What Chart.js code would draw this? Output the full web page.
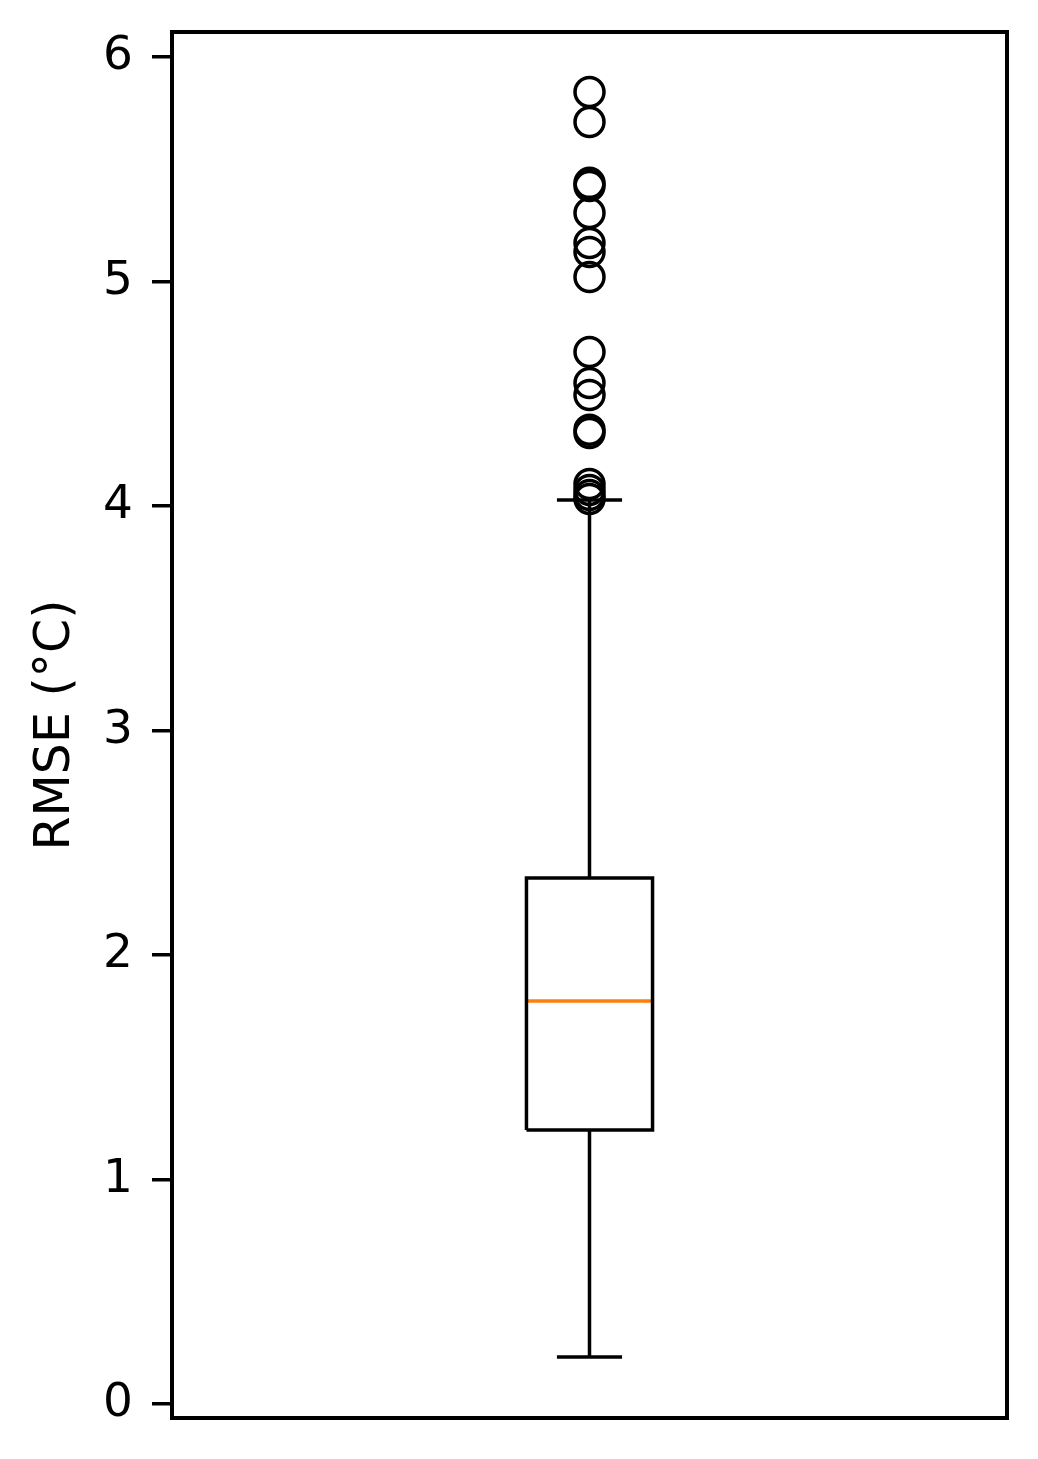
<!DOCTYPE html>
<html>
<head>
<meta charset="utf-8">
<script src="https://cdn.jsdelivr.net/npm/chart.js@4.4.0/dist/chart.umd.min.js"></script>
<style>
  html, body { margin: 0; padding: 0; background: #fff; }
</style>
</head>
<body>
<canvas id="c" width="1038" height="1459"></canvas>
<script>
// box plot stats
const categories = ['RMSE'];
const lowerWhisker = [0.209];
const q1 = [1.22];
const median = [1.795];
const q3 = [2.343];
const upperWhisker = [4.027];
const outliers = [5.844, 5.71, 5.439, 5.425, 5.305, 5.171, 5.131, 5.02,
  4.686, 4.548, 4.494, 4.339, 4.325, 4.098, 4.071, 4.049, 4.031];
const yTicks = [0, 1, 2, 3, 4, 5, 6];

const boxHalf = 0.151;
const capHalf = 0.078;
const pos = 1;
const i = 0;

const line = (pts, color) => ({
  data: pts,
  showLine: true,
  borderColor: color || '#000',
  borderWidth: 3.5,
  pointRadius: 0,
  fill: false,
});

const datasets = [
  line([{ x: pos, y: q1[i] }, { x: pos, y: lowerWhisker[i] }]),
  line([{ x: pos - capHalf, y: lowerWhisker[i] }, { x: pos + capHalf, y: lowerWhisker[i] }]),
  line([{ x: pos, y: q3[i] }, { x: pos, y: upperWhisker[i] }]),
  line([{ x: pos - capHalf, y: upperWhisker[i] }, { x: pos + capHalf, y: upperWhisker[i] }]),
  line([
    { x: pos - boxHalf, y: q1[i] }, { x: pos + boxHalf, y: q1[i] },
    { x: pos + boxHalf, y: q3[i] }, { x: pos - boxHalf, y: q3[i] },
    { x: pos - boxHalf, y: q1[i] },
  ]),
  line([{ x: pos - boxHalf, y: median[i] }, { x: pos + boxHalf, y: median[i] }], '#ff7f0e'),
  {
    data: outliers.map(v => ({ x: pos, y: v })),
    showLine: false,
    pointStyle: 'circle',
    pointRadius: 14.5,
    pointBorderWidth: 3.5,
    pointBorderColor: '#000',
    pointBackgroundColor: 'rgba(0,0,0,0)',
  },
];

// draws the frame round the plot area
const frame = {
  id: 'frame',
  afterDatasetsDraw(chart) {
    const { ctx, chartArea: a } = chart;
    ctx.save();
    ctx.strokeStyle = '#000';
    ctx.lineWidth = 4;
    ctx.strokeRect(a.left, a.top, a.right - a.left, a.bottom - a.top);
    ctx.restore();
  },
};

new Chart(document.getElementById('c'), {
  type: 'scatter',
  data: { labels: categories, datasets },
  plugins: [frame],
  options: {
    responsive: false,
    animation: false,
    layout: { autoPadding: false, padding: { left: 0, right: 31, top: 32, bottom: 41 } },
    plugins: { legend: { display: false }, tooltip: { enabled: false } },
    scales: {
      x: { type: 'linear', min: 0, max: 2, display: false },
      y: {
        min: -0.0624,
        max: 6.111,
        afterFit(scale) {
          scale.width = 172;
          scale.paddingTop = 0;
          scale.paddingBottom = 0;
        },
        afterBuildTicks(scale) { scale.ticks = yTicks.map(v => ({ value: v })); },
        ticks: {
          color: '#000',
          padding: 19,
          font: { family: 'DejaVu Sans', size: 47 },
        },
        grid: {
          display: true,
          drawOnChartArea: false,
          drawTicks: true,
          tickLength: 20,
          color: '#000',
          lineWidth: 3.5,
        },
        border: { display: true, color: '#000', width: 4 },
        title: {
          display: true,
          text: 'RMSE (°C)',
          color: '#000',
          padding: { top: 27, bottom: 0 },
          font: { family: 'DejaVu Sans', size: 49 },
        },
      },
    },
  },
});
</script>
</body>
</html>
